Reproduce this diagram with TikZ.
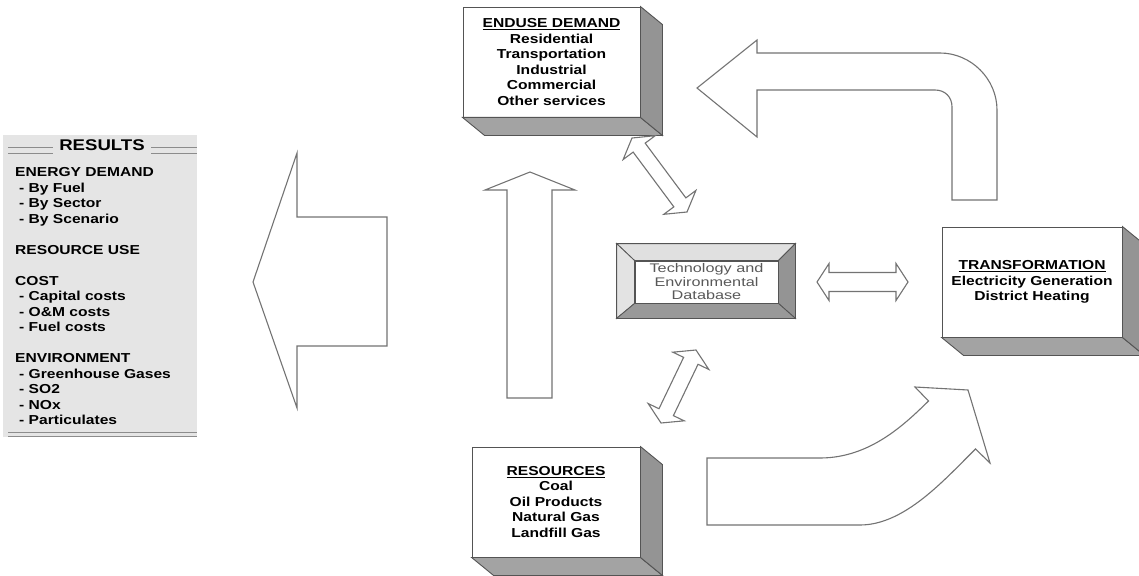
\documentclass[tikz,border=0pt]{standalone}
\usepackage{fontspec}
\setmainfont{Liberation Sans}
\newfontfamily\labelfont{Liberation Sans}[FakeStretch=1.2]
\newfontfamily\techfont{Liberation Sans}[FakeStretch=1.3]
\usetikzlibrary{calc}
\definecolor{edge}{gray}{0.33}
\definecolor{arrowline}{gray}{0.45}
\definecolor{bottomshade}{gray}{0.64}
\definecolor{sideshade}{gray}{0.58}
\definecolor{panel}{gray}{0.90}
\definecolor{bevellight}{gray}{0.88}
\definecolor{beveldark}{gray}{0.58}

% bottom and right faces of a raised box
\newcommand{\solidfaces}[1]{%
  \filldraw[draw=edge,line width=0.9pt,fill=bottomshade] (#1.south west) -- ++(22,18) -- ($(#1.south east)+(22,18)$) -- (#1.south east) -- cycle;
  \filldraw[draw=edge,line width=0.9pt,fill=sideshade] (#1.north east) -- ++(22,18) -- ($(#1.south east)+(22,18)$) -- (#1.south east) -- cycle;}

% two-headed block arrow: from, to, half shaft, half head, head length
\newcommand{\twoway}[5]{%
  \path ($(#1)!#5!(#2)$) coordinate (tw1) ($(#2)!#5!(#1)$) coordinate (tw2);
  \draw[blockarrow] ($(tw1)!#4!90:(#2)$) -- (#1) -- ($(tw1)!#4!-90:(#2)$) -- ($(tw1)!#3!-90:(#2)$)
    -- ($(tw2)!#3!90:(#1)$) -- ($(tw2)!#4!90:(#1)$) -- (#2) -- ($(tw2)!#4!-90:(#1)$)
    -- ($(tw2)!#3!-90:(#1)$) -- ($(tw1)!#3!90:(#2)$) -- cycle;}

\begin{document}
\begin{tikzpicture}[x=1pt,y=-1pt,
    solidbox/.style={draw=edge,line width=0.9pt,fill=white,inner sep=0pt,align=center,minimum height=110pt,
        font=\labelfont\bfseries\fontsize{13}{15.5}\selectfont},
    techbox/.style={draw=edge,line width=0.8pt,fill=white,inner sep=0pt,align=center,
        minimum width=143pt,minimum height=42pt,text=black!65,font=\techfont\fontsize{12.5}{13.5}\selectfont},
    blockarrow/.style={draw=arrowline,line width=1.1pt,fill=white,line join=miter},
    titlerule/.style={draw=black!45,line width=0.9pt}
]
\useasboundingbox (0,0) rectangle (1139,575);

% results panel
\node[fill=panel,inner sep=0pt,minimum width=194pt,minimum height=302pt,anchor=north west] (panel) at (3,135) {};
\node[inner sep=0pt,font=\labelfont\bfseries\fontsize{15.5}{17}\selectfont] (restitle) at (102,145) {RESULTS};
\foreach \y in {147.5,153}
  \draw[titlerule] (8,\y) -- (53,\y) (151,\y) -- (197,\y);
\foreach \y in {432,436}
  \draw[titlerule] (8,\y) -- (197,\y);
\node[inner sep=0pt,anchor=north west,align=left,font=\labelfont\bfseries\fontsize{13}{15.5}\selectfont] (reslist) at (15,167.3)
  {ENERGY DEMAND\\\hspace*{4pt}- By Fuel\\\hspace*{4pt}- By Sector\\\hspace*{4pt}- By Scenario\\[15.5pt]
   RESOURCE USE\\[15.5pt]
   COST\\\hspace*{4pt}- Capital costs\\\hspace*{4pt}- O\&M costs\\\hspace*{4pt}- Fuel costs\\[15.5pt]
   ENVIRONMENT\\\hspace*{4pt}- Greenhouse Gases\\\hspace*{4pt}- SO2\\\hspace*{4pt}- NOx\\\hspace*{4pt}- Particulates};

% boxes
\node[solidbox,minimum width=177pt] (enduse) at (551.5,62)
  {\underline{ENDUSE DEMAND}\\Residential\\Transportation\\Industrial\\Commercial\\Other services};
\solidfaces{enduse}
\node[solidbox,minimum width=180pt] (transf) at (1032,282)
  {\underline{TRANSFORMATION}\\Electricity Generation\\District Heating};
\solidfaces{transf}
\node[solidbox,minimum width=168pt] (resources) at (556,502)
  {\underline{RESOURCES}\\Coal\\Oil Products\\Natural Gas\\Landfill Gas};
\solidfaces{resources}

\node[techbox] (tech) at (706.5,282) {Technology and\\Environmental\\Database};
\filldraw[draw=edge,line width=0.8pt,fill=bevellight] (tech.north west) -- ++(-18,-17) -- ($(tech.north east)+(17,-17)$) -- (tech.north east) -- cycle;
\filldraw[draw=edge,line width=0.8pt,fill=bevellight!90] (tech.north west) -- ++(-18,-17) -- ($(tech.south west)+(-18,15)$) -- (tech.south west) -- cycle;
\filldraw[draw=edge,line width=0.8pt,fill=beveldark] (tech.north east) -- ++(17,-17) -- ($(tech.south east)+(17,15)$) -- (tech.south east) -- cycle;
\filldraw[draw=edge,line width=0.8pt,fill=beveldark!95] (tech.south west) -- ++(-18,15) -- ($(tech.south east)+(17,15)$) -- (tech.south east) -- cycle;

% big arrows
\draw[blockarrow] (253,282) -- (297,153) -- (297,217) -- (387,217) -- (387,346) -- (297,346) -- (297,408) -- cycle;
\draw[blockarrow] (530,172) -- (575,190) -- (552,190) -- (552,398) -- (507,398) -- (507,190) -- (485,190) -- cycle;
\draw[blockarrow] (697,88) -- (757,40) -- (757,53) -- (940,53) .. controls (971,53) and (997,79) .. (997,110)
  -- (997,200) -- (952,200) -- (952,107) .. controls (952,97) and (945,90) .. (935,90) -- (757,90) -- (757,137) -- cycle;
\draw[blockarrow] (707,458) -- (820,458) .. controls (870,458) and (905,424) .. (928.5,401) -- (915,387) -- (968,390)
  -- (990,463) -- (975.5,449) .. controls (945,479) and (905,525) .. (860,525) -- (707,525) -- cycle;

% two-way arrows
\coordinate (ue1) at (632,138);
\coordinate (ue2) at (687,212);
\twoway{ue1}{ue2}{7.5pt}{20pt}{12pt}
\coordinate (rs1) at (661,423);
\coordinate (rs2) at (696,350);
\twoway{rs1}{rs2}{8pt}{20pt}{12pt}
\coordinate (tt1) at (817,282);
\coordinate (tt2) at (908,282);
\twoway{tt1}{tt2}{9.5pt}{18.5pt}{12pt}
\end{tikzpicture}
\end{document}
